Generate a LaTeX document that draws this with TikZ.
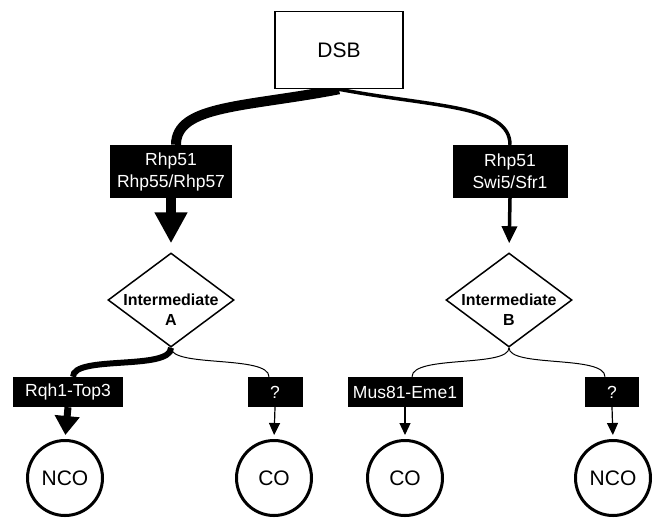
\documentclass[tikz,border=0pt]{standalone}
\usepackage{fontspec}
\setmainfont{Liberation Sans}
\usetikzlibrary{positioning, arrows.meta, shapes.geometric, backgrounds}

\begin{document}
\begin{tikzpicture}[x=1pt, y=-1pt,
  protein/.style={fill=black, text=white, inner sep=0pt, minimum height=30pt, align=center, font=\fontsize{17.5}{22}\selectfont},
  inter/.style={diamond, draw=black, line width=1.5pt, minimum width=126pt, minimum height=94pt, inner sep=0pt},
  intertext/.style={inner sep=0pt, align=center, font=\fontsize{16}{20}\selectfont\bfseries},
  outcome/.style={circle, draw=black, line width=3pt, minimum size=75pt, inner sep=0pt, font=\fontsize{21}{25}\selectfont}]
\useasboundingbox (0,0) rectangle (658,520);

% DSB and the two loading complexes
\node[draw, fill=white, line width=1.5pt, minimum width=128pt, minimum height=77pt, font=\fontsize{21}{25}\selectfont] (dsb) at (339,50) {DSB};
\node[protein, minimum width=122pt, minimum height=53pt] (rA) at (171,171.5) {Rhp51\\Rhp55/Rhp57};
\node[protein, minimum width=115pt, minimum height=53pt] (rB) at (510,171.5) {Rhp51\\Swi5/Sfr1};

\begin{scope}[on background layer]
\draw[line width=10pt] (dsb.south) .. controls +(-93,18) and +(0,-40) .. ([xshift=5pt]rA.north);
\draw[line width=3.5pt] (dsb.south) .. controls +(95,18) and +(0,-40) .. (rB.north);
\end{scope}

% Intermediates
\node[inter] (dA) at (171,300) {};
\node[intertext] (tA) at (171,310) {Intermediate\\A};
\node[inter] (dB) at (509,300) {};
\node[intertext] (tB) at (509,310) {Intermediate\\B};

\draw[line width=10pt, -{Triangle[width=31pt, length=31pt]}, shorten >=9pt] (rA.south) -- (dA.north);
\draw[line width=3.5pt, -{Triangle[width=15pt, length=17pt]}, shorten >=9pt] (rB.south) -- (dB.north);

% Resolution
\node[protein, minimum width=110pt] (pA1) at (68,392) {Rqh1-Top3};
\node[protein, minimum width=55pt] (pA2) at (275,392) {?};
\node[protein, minimum width=115pt] (pB1) at (405,392) {Mus81-Eme1};
\node[protein, minimum width=54pt] (pB2) at (612,392) {?};

\draw[line width=6pt] (dA.south) .. controls +(0,23) and +(0,-22) .. ([xshift=5pt]pA1.north);
\draw[line width=1pt] (dA.south) .. controls +(0,20) and +(0,-22) .. ([xshift=-6pt]pA2.north);
\draw[line width=1pt] (dB.south) .. controls +(0,20) and +(0,-22) .. ([xshift=7pt]pB1.north);
\draw[line width=1pt] (dB.south) .. controls +(0,20) and +(0,-22) .. ([xshift=-7pt]pB2.north);

% Products
\node[outcome] (oA1) at (65,478) {NCO};
\node[outcome] (oA2) at (274,478) {CO};
\node[outcome] (oB1) at (405,478) {CO};
\node[outcome] (oB2) at (613,478) {NCO};

\draw[line width=7pt, -{Triangle[width=24pt, length=19pt]}, shorten >=4pt] (pA1.south) -- (oA1.north);
\draw[line width=1.2pt, -{Triangle[width=11pt, length=12pt]}, shorten >=4pt] (pA2.south) -- (oA2.north);
\draw[line width=1.2pt, -{Triangle[width=11pt, length=12pt]}, shorten >=4pt] (pB1.south) -- (oB1.north);
\draw[line width=1.2pt, -{Triangle[width=11pt, length=12pt]}, shorten >=4pt] (pB2.south) -- (oB2.north);
\end{tikzpicture}
\end{document}
